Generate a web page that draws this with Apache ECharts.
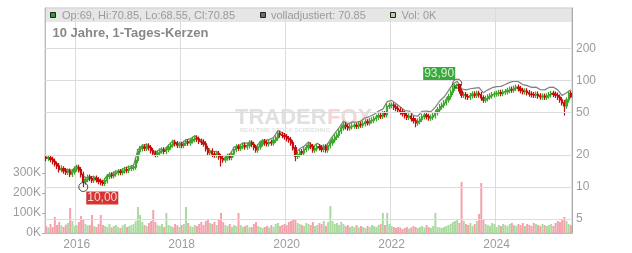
<!DOCTYPE html>
<html><head><meta charset="utf-8">
<script src="https://cdn.jsdelivr.net/npm/echarts@6/dist/echarts.min.js"></script>
<style>html,body{margin:0;padding:0;background:#fff}#c{width:632px;height:253px}</style>
</head><body><div id="c"></div>
<script>
// semi-monthly candles, 2015-06-01 .. 2025-06-01 (241 periods)
const firstOpen = 18.9;
const closes = [
18.6,18.8,18.2,17.4,16.5,15.8,14.6,14.9,14.2,13.8,
14.1,13.2,13.9,14.8,15.3,14.6,13.1,11.2,11.8,12.4,
12.0,11.6,12.1,11.7,11.3,11.0,10.8,11.5,12.6,13.0,
12.8,13.3,13.6,14.0,13.7,14.2,14.6,14.4,15.0,15.2,
15.4,17.8,21.5,23.0,23.8,23.2,24.3,23.5,22.0,20.8,
20.2,21.0,21.8,22.3,21.6,22.5,23.8,24.9,26.2,25.6,
24.8,25.2,24.6,25.8,26.6,26.0,27.2,28.0,28.9,28.2,
27.0,26.5,25.5,23.0,21.0,21.8,20.4,20.0,20.6,19.2,
18.5,18.0,18.8,19.5,19.0,20.5,22.5,23.8,23.2,24.0,
24.6,23.8,24.5,26.0,25.2,23.6,22.3,23.8,25.5,26.7,
26.0,25.6,26.3,26.0,27.5,29.0,32.0,31.0,30.5,29.7,
28.5,27.8,26.0,23.5,19.5,20.2,21.5,20.9,22.6,23.5,
24.8,24.0,22.3,23.0,24.0,23.4,22.6,23.8,22.3,24.5,
26.0,27.8,29.5,30.8,33.5,36.0,38.3,37.0,36.0,36.9,
37.5,38.0,37.4,38.8,38.3,39.5,41.0,40.2,42.0,42.6,
44.0,45.5,47.0,46.5,49.0,48.0,57.5,58.5,59.0,56.5,
55.0,53.0,51.0,49.0,47.0,45.5,46.5,44.0,42.0,40.0,
41.5,43.5,46.0,47.5,46.0,44.6,45.5,47.0,50.0,53.5,
57.0,59.0,62.0,66.0,71.0,78.0,85.0,90.0,92.0,80.0,
73.0,74.0,71.0,70.0,72.5,75.0,73.0,76.0,74.0,69.0,
66.0,68.0,70.5,72.0,74.0,75.0,76.0,77.5,76.0,78.0,
79.0,81.0,83.0,82.0,85.0,87.0,84.0,81.0,79.0,80.0,
77.0,75.0,74.0,73.0,74.5,72.0,70.5,71.5,70.0,72.0,
74.0,76.0,74.5,73.0,70.0,66.0,62.0,58.0,66.0,76.0,
70.85];
const highs = [
20.0,19.9,19.8,19.3,18.5,17.4,16.8,15.9,15.7,15.1,
14.9,14.9,14.7,15.7,16.2,16.2,15.4,13.9,12.5,13.1,
13.1,12.7,12.8,12.8,12.4,12.0,11.7,12.2,13.3,13.8,
13.8,14.1,14.4,14.8,14.8,15.1,15.5,15.5,15.9,16.1,
16.3,18.9,22.8,24.4,25.2,25.2,25.8,25.8,24.9,23.3,
22.0,22.3,23.1,23.6,23.6,23.9,25.2,26.4,27.8,27.8,
27.1,26.7,26.7,27.3,28.2,28.2,28.8,29.7,30.6,30.6,
29.9,28.6,28.1,27.0,24.4,23.1,23.1,21.6,21.8,21.8,
20.4,19.6,19.9,20.7,20.7,21.7,23.9,25.2,25.2,25.4,
26.1,26.1,26.0,27.6,27.6,26.7,25.0,25.2,27.0,28.3,
28.3,27.6,27.9,27.9,29.2,30.7,33.9,33.9,32.9,32.3,
31.5,30.2,29.5,27.6,24.9,21.4,22.8,22.8,24.0,24.9,
26.3,26.3,25.4,24.4,25.4,25.4,24.8,25.2,25.2,26.0,
27.6,29.5,31.3,32.6,35.5,38.2,40.6,40.6,39.2,39.1,
39.8,40.3,40.3,41.1,41.1,41.9,43.5,43.5,44.5,45.2,
46.6,48.2,49.8,49.8,51.9,51.9,61.0,62.0,62.5,62.5,
59.9,58.3,56.2,54.1,51.9,49.8,49.3,49.3,46.6,44.5,
44.0,46.1,48.8,50.4,50.4,48.8,48.2,49.8,53.0,56.7,
60.4,62.5,65.7,70.0,75.3,82.7,89.0,93.0,93.9,93.5,
84.0,78.4,78.4,75.3,76.9,79.5,79.5,80.6,80.6,78.4,
73.1,72.1,74.7,76.3,78.4,79.5,80.6,82.2,82.2,82.7,
83.7,85.9,88.0,88.0,90.1,92.2,92.2,89.0,85.9,84.8,
84.8,81.6,79.5,78.4,79.0,79.0,76.3,75.8,75.8,76.3,
78.4,80.6,80.6,79.0,77.4,74.2,70.0,65.7,70.0,80.6,
80.0];
const lows = [
17.5,17.6,17.1,16.3,15.6,14.8,13.7,13.8,13.3,13.0,
13.0,12.4,12.4,13.1,13.9,13.7,12.3,10.0,10.5,11.1,
11.3,10.9,10.9,11.0,10.6,10.4,10.2,10.2,10.8,11.8,
12.0,12.0,12.5,12.8,12.9,12.9,13.3,13.5,13.5,14.1,
14.3,14.5,16.7,20.2,21.6,21.8,21.8,22.1,20.7,19.6,
19.0,19.0,19.7,20.5,20.3,20.3,21.2,22.4,23.4,24.1,
23.3,23.3,23.1,23.1,24.3,24.4,24.4,25.6,26.3,26.5,
25.4,24.9,24.0,21.6,19.7,19.7,19.2,18.8,18.8,18.0,
15.6,16.9,16.9,17.7,17.9,17.9,19.3,21.2,21.8,21.8,
22.6,22.4,22.4,23.0,23.7,22.2,21.0,21.0,22.4,24.0,
24.4,24.1,24.1,24.4,24.4,25.9,27.3,29.1,28.7,27.9,
26.8,26.1,24.4,22.1,17.5,18.3,19.0,19.6,19.6,21.2,
22.1,22.6,21.0,21.0,21.6,22.0,21.2,21.2,21.0,21.0,
23.0,24.4,26.1,27.7,29.0,31.5,33.8,34.8,33.8,33.8,
34.7,35.3,35.2,35.2,36.0,36.0,37.1,37.8,37.8,39.5,
40.0,41.4,42.8,43.7,43.7,45.1,45.1,54.1,55.0,53.1,
51.7,49.8,47.9,46.1,44.2,42.8,42.8,41.4,39.5,36.5,
37.6,39.0,40.9,43.2,43.2,41.9,41.9,42.8,44.2,47.0,
50.3,53.6,55.5,58.3,62.0,66.7,73.3,79.9,84.6,75.2,
68.6,68.6,66.7,65.8,65.8,68.2,68.6,68.6,69.6,64.9,
62.0,62.0,63.9,66.3,67.7,69.6,70.5,71.4,71.4,71.4,
73.3,74.3,76.1,77.1,77.1,79.9,79.0,76.1,74.3,74.3,
72.4,70.5,69.6,68.6,68.6,67.7,66.3,66.3,65.8,65.8,
67.7,69.6,70.0,68.6,65.8,62.0,58.3,47.0,54.5,62.0,
68.55];
// volume in thousands per period
const volumes = [
35,28,45,30,80,40,55,38,30,42,
50,125,60,35,40,55,85,70,45,38,
40,90,35,30,45,90,40,35,30,45,
28,35,40,30,25,38,45,30,35,40,
45,60,130,90,55,40,35,50,60,115,
55,40,35,45,30,100,40,35,30,45,
38,30,40,45,130,50,35,30,40,35,
45,55,40,60,70,50,45,55,40,65,
100,55,40,35,45,30,40,35,100,40,
30,35,40,28,30,45,55,35,30,25,
30,35,28,40,30,45,50,35,40,45,
40,55,60,70,65,50,45,40,35,50,
45,40,55,35,40,50,45,60,35,55,
135,60,45,50,40,55,45,35,40,30,
35,30,40,28,35,30,25,35,30,40,
35,30,40,45,100,40,100,45,35,30,
25,30,28,20,25,30,22,28,35,30,
25,30,35,28,40,30,25,35,100,30,
28,25,30,35,40,45,55,60,70,50,
255,60,45,40,50,35,45,60,95,250,
70,45,40,35,50,45,30,40,35,45,
40,35,45,50,40,35,45,40,50,35,
45,40,35,50,45,40,35,45,40,35,
40,45,35,50,60,55,70,80,60,45,
40];
// "volladjustiert" line, monthly (every 2nd period)
const adjusted = [
19.2,18.8,17.0,15.1,14.7,14.6,14.4,15.8,13.6,12.2,
12.4,12.5,11.7,11.2,13.0,13.3,14.1,14.2,15.1,15.6,
16.0,22.3,24.7,25.2,22.9,21.0,22.7,22.5,24.8,27.3,
25.9,25.7,27.8,28.5,30.3,28.3,26.8,22.1,21.5,21.7,
19.5,19.8,20.1,23.8,24.5,26.0,25.9,26.7,23.6,27.0,
27.6,27.9,29.2,34.0,32.4,30.3,27.7,20.8,23.0,24.2,
26.6,23.9,25.8,24.3,24.0,28.0,31.9,36.3,41.6,39.1,
40.8,40.8,41.8,44.8,46.0,48.3,51.7,54.0,63.5,65.3,
61.0,56.7,52.4,51.9,47.0,46.5,51.6,51.7,51.2,56.4,
64.4,70.2,80.6,93.0,99.0,84.0,82.0,84.0,85.0,86.0,
77.0,82.0,86.0,88.0,88.5,92.0,96.5,99.0,98.0,92.0,
90.0,86.5,87.0,82.5,82.0,86.5,87.0,82.0,72.5,77.0,
82.0];
const priceTicks = [5, 10, 20, 50, 100, 200];
const volTicks = [0, 100, 200, 300];
const extremeIdx = [17, 188];
const extremeVal = [10.00, 93.90];
const legendTexts = ['Op:69, Hi:70.85, Lo:68.55, Cl:70.85', 'volladjustiert: 70.85', 'Vol: 0K'];
const titleText = '10 Jahre, 1-Tages-Kerzen';

const dates = [];
for (let k = 0; k < closes.length; k++) {
  const m = 5 + Math.floor(k / 2);
  const y = 2015 + Math.floor(m / 12);
  const mm = String(m % 12 + 1).padStart(2, '0');
  dates.push(y + '-' + mm + '-' + (k % 2 ? '16' : '01'));
}

const FONT = '"Liberation Sans", Arial, sans-serif';
const candleData = closes.map((c, i) => [i === 0 ? firstOpen : closes[i - 1], c, lows[i], highs[i]]);
const volData = volumes.map((v, i) => ({
  value: v,
  itemStyle: { color: candleData[i][1] >= candleData[i][0] ? '#a9da9f' : '#f3a2ac' }
}));
const adjData = adjusted.map((v, k) => [k * 2, v]);
const isMajor = (idx, val) => /-01-01$/.test(val) && (+val.slice(0, 4)) % 2 === 0;

const chart = echarts.init(document.getElementById('c'), null, { renderer: 'canvas' });
chart.setOption({
  animation: false,
  grid: { left: 45, right: 60, top: 8, bottom: 20, show: true, borderColor: '#c4c4c4', borderWidth: 1 },
  xAxis: {
    type: 'category', data: dates, boundaryGap: true,
    axisLine: { show: true, lineStyle: { color: '#bbb' } },
    axisTick: { show: false },
    axisLabel: { interval: isMajor, formatter: v => v.slice(0, 4), color: '#9c9c9c', fontSize: 12, fontFamily: FONT, margin: 6 },
    splitLine: { show: true, interval: isMajor, lineStyle: { color: '#dcdcdc', width: 1 } }
  },
  yAxis: [
    {
      type: 'value', position: 'left', min: 0, max: 1125,
      axisLine: { show: true, lineStyle: { color: '#bbb' } },
      axisTick: { show: true, length: 3, customValues: volTicks, lineStyle: { color: '#aaa' } },
      axisLabel: { customValues: volTicks, formatter: v => (v <= 300 ? v + 'K' : ''), color: '#9c9c9c', fontSize: 12, fontFamily: FONT, margin: 4 },
      splitLine: { show: false }
    },
    {
      type: 'log', logBase: 10, position: 'right', min: 3.692, max: 483.1,
      axisLine: { show: true, lineStyle: { color: '#aaa' } },
      axisTick: { show: false }, axisLabel: { show: false }, splitLine: { show: false }
    }
  ],
  series: [
    {
      type: 'line', yAxisIndex: 1, data: adjData, symbol: 'none', z: 1, silent: true,
      lineStyle: { color: '#808080', width: 1.2 },
      markLine: {
        silent: true, symbol: ['none', 'none'], animation: false,
        lineStyle: { color: '#dcdcdc', type: 'solid', width: 1 },
        label: { position: 'end', formatter: '{c}', color: '#9c9c9c', fontSize: 12, fontFamily: FONT, distance: 4 },
        emphasis: { disabled: true },
        data: priceTicks.map(v => ({ yAxis: v }))
      }
    },
    { type: 'bar', yAxisIndex: 0, data: volData, barWidth: '90%', z: 2, silent: true },
    {
      type: 'candlestick', yAxisIndex: 1, data: candleData, barWidth: '80%', z: 3, silent: true,
      itemStyle: { color: '#3ea82c', color0: '#c80c0c', borderColor: '#3ea82c', borderColor0: '#c80c0c', borderWidth: 1.2 }
    },
    {
      type: 'scatter', yAxisIndex: 1, z: 5, silent: true, symbol: 'circle', symbolSize: 9,
      itemStyle: { color: 'rgba(0,0,0,0)', borderColor: '#222', borderWidth: 1 },
      data: extremeIdx.map((ix, j) => ({
        value: [ix, extremeVal[j]],
        label: {
          show: true, position: 'inside', offset: j === 0 ? [19, 11] : [-18, -10],
          formatter: p => p.value[1].toFixed(2).replace('.', ','),
          color: '#fff', fontSize: 12, fontFamily: FONT, lineHeight: 12,
          backgroundColor: j === 0 ? '#cc0000' : '#079407', padding: [1, 1, 0, 1]
        }
      }))
    }
  ],
  graphic: [
    { type: 'rect', z: -1, shape: { x: 45.5, y: 8.5, width: 527, height: 13.5 }, style: { fill: '#e6e6e6' } },
    { type: 'rect', z: 10, shape: { x: 50.5, y: 12.5, width: 5, height: 5 }, style: { fill: '#2e9c2e', stroke: '#222', lineWidth: 1 } },
    { type: 'rect', z: 10, shape: { x: 260.5, y: 12.5, width: 5, height: 5 }, style: { fill: '#6e6e6e', stroke: '#222', lineWidth: 1 } },
    { type: 'rect', z: 10, shape: { x: 390.5, y: 12.5, width: 5, height: 5 }, style: { fill: '#a8d8a0', stroke: '#222', lineWidth: 1 } },
    { type: 'text', z: 10, style: { text: legendTexts[0], x: 62, y: 15.5, fill: '#9a9a9a', font: '11px ' + FONT, verticalAlign: 'middle' } },
    { type: 'text', z: 10, style: { text: legendTexts[1], x: 271, y: 15.5, fill: '#9a9a9a', font: '11px ' + FONT, verticalAlign: 'middle' } },
    { type: 'text', z: 10, style: { text: legendTexts[2], x: 401.5, y: 15.5, fill: '#9a9a9a', font: '11px ' + FONT, verticalAlign: 'middle' } },
    { type: 'text', z: 10, style: { text: titleText, x: 52.5, y: 33.5, fill: '#888', font: 'bold 13px ' + FONT, verticalAlign: 'middle' } },
    { type: 'text', z: 1, style: { text: 'TRADER', x: 235, y: 117.5, fill: '#e0e0e0', font: 'bold 22px ' + FONT, verticalAlign: 'middle' } },
    { type: 'text', z: 1, style: { text: 'FOX', x: 327, y: 117.5, fill: '#f3d6d6', font: 'bold 22px ' + FONT, verticalAlign: 'middle' } },
    { type: 'text', z: 1, style: { text: 'REALTIME STOCK SCREENING', x: 240, y: 130, fill: '#e2e2e2', font: 'bold 6px ' + FONT, verticalAlign: 'middle' } }
  ]
});
</script></body></html>
